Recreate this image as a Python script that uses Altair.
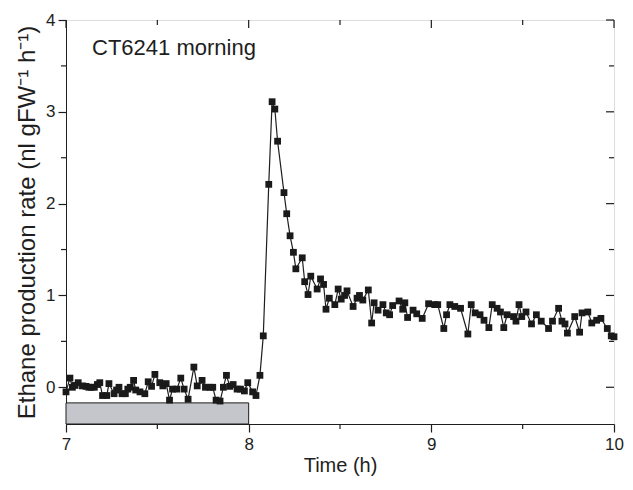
import altair as alt
import pandas as pd

# ---- data (minutes after 7:00 h, ethane rate) ----
minutes = [
    0, 1.3, 2.1, 3, 4.0, 5.4, 6.6, 7.5, 8.3, 9.3, 10.3, 11.1, 12.0, 13.4, 14.1, 15.8,
    16.6, 17.4, 18.4, 19.5, 20.3, 21.1, 22.2, 22.9, 24.3, 25.9, 27.0, 28.1, 29.2,
    30.8, 31.8, 32.9, 34.0, 35.0, 36.4, 37.7, 38.8, 40.1, 42.0, 43.1, 44.7, 45.8,
    47.2, 48.2, 49.3, 50.6, 51.7, 52.7, 53.8, 54.9, 56.2, 57.3, 58.6, 59.7, 61.3,
    62.4, 63.7,
    64.8, 66.6, 67.7, 68.6, 69.5, 71.6, 72.5, 73.6, 74.7, 75.5, 77.6, 78.4, 79.5,
    80.4, 82.5, 83.6, 84.6, 85.4, 86.5, 88.3, 89.4, 90.4, 91.5, 92.3, 94.3, 95.6,
    96.4, 97.5, 99.3, 100.4, 101.2, 102.5, 104.1, 105.2, 106.3, 107.3, 109.4, 110.6,
    111.3, 112.2, 114.0, 115.2, 117.0, 119.1, 121.1, 122.1, 124.1, 125.0, 126.1,
    127.7, 129.6, 132.0, 133.1, 134.4, 136.0, 137.3, 138.9, 140.0, 141.6, 142.7,
    143.8, 144.9, 147.0, 147.8, 148.8, 149.7, 151.1, 152.9, 154.5, 156.1, 158.5,
    159.8, 161.8, 162.9, 163.9, 164.7, 167.1, 168.7, 169.5, 171.4, 172.7, 174.3,
    175.7, 177.8, 179.1, 180.0,
]
rates = [
    -0.05, 0.10, 0.0, 0.02, 0.05, 0.015, 0.01, 0.0, 0.0, 0.0, 0.03, 0.05, -0.09, -0.09,
    0.04, -0.07, -0.03, 0.0, -0.07, -0.07, -0.02, 0.0, 0.075, -0.03, -0.05, -0.07,
    0.06, 0.01, 0.14, 0.05, 0.015, 0.04, -0.14, -0.02, -0.02, 0.10, -0.02, -0.13,
    0.22, 0.015, 0.075, 0.0, 0.0, 0.0, -0.14, -0.15, 0.0, 0.13, 0.01, 0.03, -0.02,
    -0.02, -0.04, 0.05, -0.05, -0.09, 0.13,
    0.56, 2.21, 3.11, 3.03, 2.68, 2.12, 1.89, 1.65, 1.47, 1.29, 1.41, 1.15, 1.01,
    1.21, 1.07, 1.18, 1.12, 0.85, 0.97, 0.90, 1.07, 0.96, 1.00, 1.05, 0.88, 0.97,
    1.00, 0.95, 1.06, 0.70, 0.92, 0.84, 0.90, 0.81, 0.79, 0.89, 0.94, 0.85,
    0.92, 0.76, 0.84, 0.80, 0.75, 0.91, 0.90, 0.90, 0.64, 0.79, 0.90,
    0.88, 0.86, 0.58, 0.90, 0.81, 0.79, 0.73, 0.65, 0.90, 0.86, 0.82,
    0.65, 0.79, 0.77, 0.72, 0.90, 0.77, 0.82, 0.69, 0.79, 0.72, 0.64,
    0.72, 0.86, 0.72, 0.69, 0.59, 0.77, 0.60, 0.81, 0.82, 0.70, 0.73,
    0.75, 0.64, 0.56, 0.55,
]

# treatment bar (time span, value span)
bar_start = [7.0]
bar_end = [8.0]
bar_low = [-0.4]
bar_high = [-0.17]

x_major = [7, 8, 9, 10]
x_minor = [7.5, 8.5, 9.5]
y_major = [0, 1, 2, 3, 4]
y_minor = [0.5, 1.5, 2.5, 3.5]

FONT = "Liberation Sans"
INK = "#1e1e1e"

df = pd.DataFrame({"t": [7 + m / 60 for m in minutes], "v": rates})
bar_df = pd.DataFrame({"t": bar_start, "t2": bar_end, "v": bar_low, "v2": bar_high})

xs = alt.Scale(domain=[7, 10], nice=False, zero=False)
ys = alt.Scale(domain=[-0.4, 4], nice=False, zero=False)

xax = alt.Axis(values=x_major, title="Time (h)", tickSize=8, tickWidth=1.2,
               labelFontSize=17, titleFontSize=20, labelPadding=4, titlePadding=3,
               grid=False, domainColor=INK, tickColor=INK, labelColor=INK,
               titleColor=INK, labelFont=FONT, titleFont=FONT,
               titleFontWeight="normal", format="d", labelFlush=False)
yax = alt.Axis(values=y_major, title="Ethane production rate (nl gFW⁻¹ h⁻¹)",
               tickSize=8, tickWidth=1.2, labelFontSize=17, titleFontSize=24,
               labelPadding=3, titlePadding=6, grid=False, domainColor=INK,
               tickColor=INK, labelColor=INK, titleColor=INK, labelFont=FONT,
               titleFont=FONT, titleFontWeight="normal", format="d", labelFlush=False)

X = lambda f: alt.X(f, scale=xs, axis=xax)
Y = lambda f: alt.Y(f, scale=ys, axis=yax)

W, H = 548, 404

bar = alt.Chart(bar_df).mark_rect(fill="#c4c6cc", stroke=INK, strokeWidth=1).encode(
    x=X("t:Q"), x2="t2:Q", y=Y("v:Q"), y2="v2:Q")

line = alt.Chart(df).mark_line(color=INK, strokeWidth=1.2).encode(
    x=X("t:Q"), y=Y("v:Q"))

pts = alt.Chart(df).mark_square(size=46, color="#1a1a1a", opacity=1).encode(
    x=X("t:Q"), y=Y("v:Q"))

label = alt.Chart(pd.DataFrame({"s": ["CT6241 morning"]})).mark_text(
    font=FONT, fontSize=22, color=INK, align="left", baseline="alphabetic").encode(
    text="s:N", x=alt.value(26), y=alt.value(35))

# minor ticks (left/bottom outward) and mirror ticks (top/right inward)
xminor_df = pd.DataFrame({"t": x_minor})
xmajor_df = pd.DataFrame({"t": x_major})
yminor_df = pd.DataFrame({"v": y_minor})
ymajor_df = pd.DataFrame({"v": y_major})

bx_minor = alt.Chart(xminor_df).mark_rule(color=INK, strokeWidth=1.2).encode(
    x=X("t:Q"), y=alt.value(H), y2=alt.value(H + 5))
top_minor = alt.Chart(xminor_df).mark_rule(color=INK, strokeWidth=1.2).encode(
    x=X("t:Q"), y=alt.value(0), y2=alt.value(5))
top_major = alt.Chart(xmajor_df).mark_rule(color=INK, strokeWidth=1.2).encode(
    x=X("t:Q"), y=alt.value(0), y2=alt.value(8))
ly_minor = alt.Chart(yminor_df).mark_rule(color=INK, strokeWidth=1.2).encode(
    y=Y("v:Q"), x=alt.value(-5), x2=alt.value(0))
ry_minor = alt.Chart(yminor_df).mark_rule(color=INK, strokeWidth=1.2).encode(
    y=Y("v:Q"), x=alt.value(W - 5), x2=alt.value(W))
ry_major = alt.Chart(ymajor_df).mark_rule(color=INK, strokeWidth=1.2).encode(
    y=Y("v:Q"), x=alt.value(W - 8), x2=alt.value(W))

chart = alt.layer(
    bar, line, pts, label, bx_minor, top_minor, top_major, ly_minor, ry_minor, ry_major
).properties(
    width=W, height=H,
    autosize=alt.AutoSizeParams(type="none"),
    padding={"left": 58, "top": 12, "right": 11, "bottom": 52},
).configure_view(stroke=INK, strokeWidth=1.2).configure(background="white")

chart.save("out.html", embed_options={"renderer": "svg", "actions": False})
